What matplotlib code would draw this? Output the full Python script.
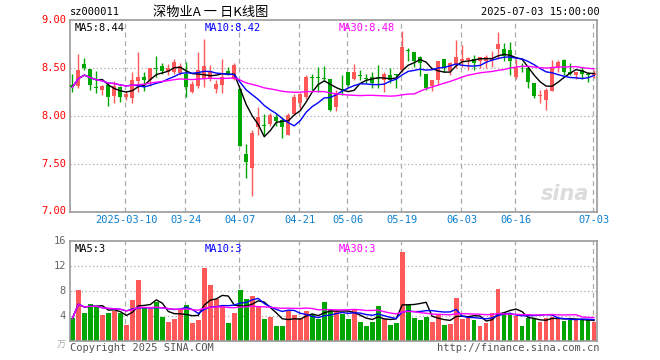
import numpy as np
import pandas as pd
import matplotlib
matplotlib.use("Agg")
import matplotlib.pyplot as plt

# daily K-line data, 2025-02-25 .. 2025-07-03 (88 sessions)
opens = [8.32, 8.31, 8.54, 8.49, 8.30, 8.27, 8.32, 8.21, 8.30, 8.20,
         8.19, 8.36, 8.41, 8.38, 8.50, 8.52, 8.46, 8.46, 8.45, 8.44,
         8.25, 8.31, 8.40, 8.40, 8.28, 8.32, 8.47, 8.39, 8.28, 7.60,
         7.45, 7.88, 7.90, 7.92, 7.99, 7.96, 7.80, 8.02, 8.14, 8.20,
         8.41, 8.41, 8.40, 8.39, 8.09, 8.28, 8.46, 8.39, 8.43, 8.40,
         8.41, 8.40, 8.38, 8.43, 8.44, 8.48, 8.69, 8.67, 8.62, 8.44,
         8.31, 8.38, 8.59, 8.47, 8.54, 8.57, 8.58, 8.60, 8.57, 8.57,
         8.58, 8.70, 8.70, 8.69, 8.41, 8.52, 8.50, 8.34, 8.21, 8.17,
         8.26, 8.50, 8.58, 8.46, 8.43, 8.48, 8.44, 8.43]
closes = [8.30, 8.48, 8.50, 8.32, 8.29, 8.31, 8.20, 8.31, 8.20, 8.23,
          8.38, 8.41, 8.38, 8.50, 8.49, 8.47, 8.50, 8.56, 8.52, 8.30,
          8.33, 8.48, 8.52, 8.47, 8.33, 8.41, 8.44, 8.53, 7.69, 7.52,
          7.82, 7.99, 7.89, 8.01, 7.95, 7.88, 8.01, 8.20, 8.23, 8.41,
          8.40, 8.40, 8.39, 8.06, 8.23, 8.27, 8.32, 8.46, 8.42, 8.39,
          8.34, 8.39, 8.44, 8.38, 8.43, 8.72, 8.68, 8.57, 8.55, 8.29,
          8.38, 8.57, 8.50, 8.55, 8.62, 8.59, 8.61, 8.55, 8.62, 8.62,
          8.60, 8.75, 8.63, 8.57, 8.50, 8.51, 8.35, 8.21, 8.22, 8.27,
          8.50, 8.56, 8.46, 8.44, 8.46, 8.44, 8.43, 8.45]
highs = [8.44, 8.65, 8.61, 8.49, 8.47, 8.32, 8.33, 8.36, 8.31, 8.26,
         8.46, 8.67, 8.46, 8.50, 8.63, 8.55, 8.54, 8.59, 8.55, 8.56,
         8.36, 8.67, 8.80, 8.53, 8.38, 8.60, 8.51, 8.55, 8.29, 7.71,
         7.85, 8.09, 8.02, 8.03, 8.02, 7.99, 8.03, 8.23, 8.24, 8.43,
         8.44, 8.51, 8.52, 8.39, 8.27, 8.43, 8.46, 8.54, 8.48, 8.44,
         8.46, 8.53, 8.46, 8.50, 8.44, 8.89, 8.71, 8.67, 8.63, 8.44,
         8.38, 8.57, 8.60, 8.56, 8.79, 8.74, 8.62, 8.64, 8.62, 8.64,
         8.68, 8.88, 8.76, 8.77, 8.60, 8.55, 8.50, 8.34, 8.27, 8.29,
         8.58, 8.58, 8.60, 8.55, 8.46, 8.51, 8.46, 8.48]
lows = [8.25, 8.29, 8.48, 8.27, 8.24, 8.22, 8.10, 8.14, 8.15, 8.17,
        8.14, 8.25, 8.26, 8.31, 8.41, 8.44, 8.43, 8.44, 8.43, 8.20,
        8.24, 8.29, 8.30, 8.36, 8.24, 8.24, 8.43, 8.38, 7.68, 7.35,
        7.16, 7.80, 7.80, 7.89, 7.89, 7.77, 7.80, 8.01, 8.06, 8.18,
        8.27, 8.25, 8.36, 8.05, 8.05, 8.22, 8.31, 8.38, 8.38, 8.34,
        8.29, 8.29, 8.25, 8.34, 8.29, 8.46, 8.57, 8.51, 8.42, 8.27,
        8.26, 8.32, 8.46, 8.43, 8.50, 8.51, 8.48, 8.48, 8.50, 8.50,
        8.51, 8.60, 8.57, 8.43, 8.39, 8.46, 8.29, 8.19, 8.14, 8.06,
        8.26, 8.46, 8.43, 8.43, 8.39, 8.39, 8.35, 8.40]
volumes = [3.57, 8.10, 4.50, 5.87, 5.50, 4.10, 4.50, 4.75, 4.37, 2.50,
           6.50, 9.70, 5.17, 5.07, 6.24, 3.84, 3.04, 3.47, 4.90, 5.70,
           2.88, 3.30, 11.7, 8.90, 6.67, 5.70, 2.77, 4.48, 8.10, 6.67,
           7.20, 5.44, 3.47, 3.84, 2.40, 2.40, 4.80, 4.10, 3.57, 4.75,
           4.20, 3.47, 6.24, 5.07, 4.75, 4.20, 3.47, 5.00, 3.04, 2.40,
           3.04, 5.55, 3.47, 2.50, 2.88, 14.2, 5.70, 3.68, 3.30, 3.84,
           3.04, 4.20, 2.50, 2.67, 6.88, 3.47, 3.68, 3.30, 2.40, 2.88,
           4.48, 8.27, 4.37, 4.20, 4.00, 2.40, 3.68, 3.57, 3.04, 3.68,
           3.84, 3.68, 3.20, 3.30, 3.30, 3.41, 3.30, 3.04]

tick_idx = [9, 19, 28, 38, 46, 55, 65, 74, 87]
tick_labels = ["2025-03-10", "03-24", "04-07", "04-21", "05-06",
               "05-19", "06-03", "06-16", "07-03"]
price_ticks = [7.0, 7.5, 8.0, 8.5, 9.0]
vol_ticks = [4, 8, 12, 16]

# values printed in the legend lines of the original
price_ma_labels = ["MA5:8.44", "MA10:8.42", "MA30:8.48"]
vol_ma_labels = ["MA5:3", "MA10:3", "MA30:3"]

RED = "#ff5858"
GREEN = "#00a600"
GRID = "#aaaaaa"
FRAME = "#999999"
MA_COLORS = ["black", "#0000ff", "#ff00ff"]
MONO = "DejaVu Sans Mono"
CJK = ["Noto Sans CJK SC", "DejaVu Sans"]

df = pd.DataFrame({"o": opens, "c": closes, "h": highs, "l": lows, "v": volumes})
x = np.arange(len(df))
up = df["c"] >= df["o"]
colors = np.where(up, RED, GREEN)

fig = plt.figure(figsize=(6.6, 3.6), dpi=100)
ax = fig.add_axes([70 / 660, 1 - 211.5 / 360, 527 / 660, 191.2 / 360])
axv = fig.add_axes([70 / 660, 1 - 340.7 / 360, 527 / 660, 100 / 360])

for a in (ax, axv):
    a.set_xlim(-0.4, 87.5)
    for s in a.spines.values():
        s.set_color(FRAME)
        s.set_linewidth(1.2)
    a.set_xticks([])
    a.set_yticks([])
    for t in tick_idx:
        a.axvline(t - 0.25, color=GRID, lw=0.9, ls=(0, (4, 3)), zorder=0)

# price panel
ax.set_ylim(7.0, 9.0)
for p in price_ticks[1:-1]:
    ax.axhline(p, color=GRID, lw=0.9, ls=(0, (1, 2)), zorder=0)
ax.vlines(x, df["l"], df["h"], colors=colors, lw=1, zorder=2)
body = np.maximum((df["c"] - df["o"]).abs(), 0.011)
ax.bar(x, body, bottom=np.minimum(df["o"], df["c"]), width=0.68,
       color=colors, zorder=3)

for n, col in zip([5, 10, 30], MA_COLORS):
    ax.plot(x, df["c"].rolling(n, min_periods=1).mean(), color=col, lw=1,
            zorder=4)

for p in price_ticks:
    fig.text(66 / 660, 1 - (211.5 - (p - 7.0) * 95.6) / 360, f"{p:.2f}",
             color="red", ha="right", va="center", family=MONO, fontsize=7.5)

for xpos, lab, col in zip([0.008, 0.255, 0.51], price_ma_labels, MA_COLORS):
    ax.text(xpos, 0.985, lab, transform=ax.transAxes, color=col, va="top",
            family=MONO, fontsize=7.5)

# sina watermark
ax.text(0.985, 0.04, "sina", transform=ax.transAxes, ha="right", va="bottom",
        color="#dcdcdc", fontsize=15, fontweight="bold", style="italic",
        family="DejaVu Sans", zorder=1)

# date labels
for t, lab in zip(tick_idx, tick_labels):
    xf = (72 + 6 * t) / 660
    fig.text(xf, 1 - 220 / 360, lab, color="#0a7fd0", ha="center",
             va="center", family=MONO, fontsize=7.5)

# volume panel
axv.set_ylim(0, 16)
for v in vol_ticks[:-1]:
    axv.axhline(v, color=GRID, lw=0.9, ls=(0, (1, 2)), zorder=0)
axv.bar(x, df["v"], width=0.8, color=colors, zorder=2)
for n, col in zip([5, 10, 30], MA_COLORS):
    axv.plot(x, df["v"].rolling(n, min_periods=1).mean(), color=col, lw=1,
             zorder=3)
for v in vol_ticks:
    fig.text(66 / 660, 1 - (340.7 - v * 6.25) / 360, str(v), color="#666666",
             ha="right", va="center", family=MONO, fontsize=7.5)
fig.text(66 / 660, 1 - 345 / 360, "万", color="#aaaaaa", ha="right",
         va="center", family=CJK, fontsize=6.5)

for xpos, lab, col in zip([0.008, 0.255, 0.51], vol_ma_labels, MA_COLORS):
    axv.text(xpos, 0.97, lab, transform=axv.transAxes, color=col, va="top",
             family=MONO, fontsize=7.5)

# header / footer
fig.text(70 / 660, 1 - 12 / 360, "sz000011", color="black", va="center",
         family=MONO, fontsize=7.5)
fig.text(211 / 660, 1 - 12 / 360, "深物业A 一 日K线图", color="black",
         ha="center", va="center", family=CJK, fontsize=9.5)
fig.text(600 / 660, 1 - 12 / 360, "2025-07-03 15:00:00", color="black",
         ha="right", va="center", family=MONO, fontsize=7.5)
fig.text(70 / 660, 1 - 348 / 360, "Copyright 2025 SINA.COM", color="#555555",
         va="center", family=MONO, fontsize=7.5)
fig.text(600 / 660, 1 - 348 / 360, "http://finance.sina.com.cn",
         color="#555555", ha="right", va="center", family=MONO, fontsize=7.5)

fig.savefig("out.png", dpi=100)
